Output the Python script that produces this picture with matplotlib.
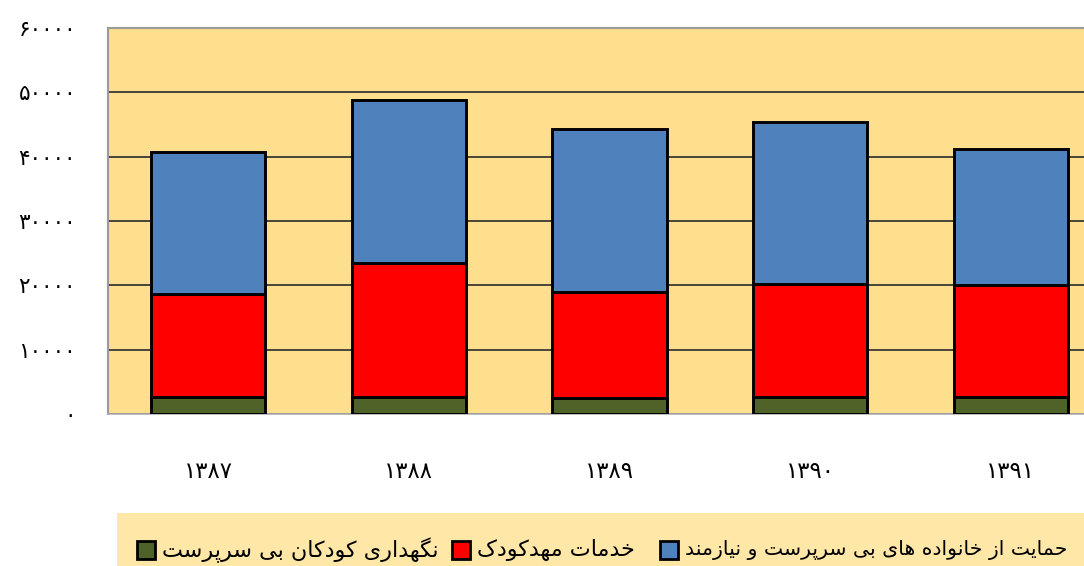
import matplotlib
matplotlib.use("Agg")
import matplotlib.pyplot as plt
from matplotlib.patches import Rectangle
from matplotlib.ticker import FuncFormatter, MultipleLocator

plt.rcParams['font.family'] = ['DejaVu Sans']

# ---------------- data ----------------
years = ['۱۳۸۷', '۱۳۸۸', '۱۳۸۹', '۱۳۹۰', '۱۳۹۱']
orphan_care = [2700, 2700, 2500, 2700, 2700]          # نگهداری کودکان بی سرپرست
daycare = [15900, 20750, 16400, 17500, 17300]         # خدمات مهدکودک
family_support = [22200, 25300, 25350, 25150, 21150]  # حمایت از خانواده های بی سرپرست و نیازمند

label_green = 'نگهداری کودکان بی سرپرست'
label_red = 'خدمات مهدکودک'
label_blue = 'حمایت از خانواده های بی سرپرست و نیازمند'

# ---------------- simple Arabic-script shaping ----------------
FORMS = {
    '\u0627': ('\uFE8D', '\uFE8E', None, None),
    '\u0628': ('\uFE8F', '\uFE90', '\uFE91', '\uFE92'),
    '\u062A': ('\uFE95', '\uFE96', '\uFE97', '\uFE98'),
    '\u062D': ('\uFEA1', '\uFEA2', '\uFEA3', '\uFEA4'),
    '\u062E': ('\uFEA5', '\uFEA6', '\uFEA7', '\uFEA8'),
    '\u062F': ('\uFEA9', '\uFEAA', None, None),
    '\u0631': ('\uFEAD', '\uFEAE', None, None),
    '\u0632': ('\uFEAF', '\uFEB0', None, None),
    '\u0633': ('\uFEB1', '\uFEB2', '\uFEB3', '\uFEB4'),
    '\u0645': ('\uFEE1', '\uFEE2', '\uFEE3', '\uFEE4'),
    '\u0646': ('\uFEE5', '\uFEE6', '\uFEE7', '\uFEE8'),
    '\u0647': ('\uFEE9', '\uFEEA', '\uFEEB', '\uFEEC'),
    '\u0648': ('\uFEED', '\uFEEE', None, None),
    '\u06CC': ('\uFBFC', '\uFBFD', '\uFBFE', '\uFBFF'),
    '\u064A': ('\uFBFC', '\uFBFD', '\uFBFE', '\uFBFF'),
    '\u067E': ('\uFB56', '\uFB57', '\uFB58', '\uFB59'),
    '\u06A9': ('\uFB8E', '\uFB8F', '\uFB90', '\uFB91'),
    '\u0643': ('\uFB8E', '\uFB8F', '\uFB90', '\uFB91'),
    '\u06AF': ('\uFB92', '\uFB93', '\uFB94', '\uFB95'),
}


def shape(s):
    out = []
    n = len(s)
    for i, c in enumerate(s):
        if c not in FORMS:
            out.append(c)
            continue
        prev = s[i - 1] if i > 0 else None
        nxt = s[i + 1] if i < n - 1 else None
        jp = prev in FORMS and FORMS[prev][2] is not None
        jn = FORMS[c][2] is not None and nxt in FORMS
        f = FORMS[c]
        if jp and jn:
            out.append(f[3])
        elif jp:
            out.append(f[1])
        elif jn:
            out.append(f[2])
        else:
            out.append(f[0])
    return ''.join(reversed(out))


PERSIAN_DIGITS = str.maketrans('0123456789', '۰۱۲۳۴۵۶۷۸۹')

# ---------------- figure ----------------
W, H = 1084, 566
fig = plt.figure(figsize=(W / 100, H / 100), dpi=100)
fig.patch.set_facecolor('white')

ax_left, ax_right, ax_top, ax_bot = 108, 1111, 28, 414
ax = fig.add_axes([ax_left / W, 1 - ax_bot / H, (ax_right - ax_left) / W, (ax_bot - ax_top) / H])
ax.set_facecolor('#FDDF8D')

x = list(range(len(years)))
bw = 0.57
c_green, c_red, c_blue = '#4F6228', '#FF0000', '#4F81BD'
bottom2 = [a for a in orphan_care]
bottom3 = [a + b for a, b in zip(orphan_care, daycare)]
ax.bar(x, orphan_care, bw, color=c_green, edgecolor='black', linewidth=2.1, zorder=3)
ax.bar(x, daycare, bw, bottom=bottom2, color=c_red, edgecolor='black', linewidth=2.1, zorder=3)
ax.bar(x, family_support, bw, bottom=bottom3, color=c_blue, edgecolor='black', linewidth=2.1, zorder=3)

ax.set_xlim(-0.5, len(years) - 0.5)
ax.set_ylim(0, 60000)
ax.yaxis.set_major_locator(MultipleLocator(10000))
for v in range(0, 60000, 10000):
    ax.axhline(v, color='#4a4438', linewidth=1.4, zorder=1)

ax.set_xticks(x)
ax.set_xticklabels(years, fontsize=16.5)
ax.yaxis.set_major_formatter(FuncFormatter(lambda v, p: str(int(v)).translate(PERSIAN_DIGITS)))
ax.tick_params(axis='x', length=0, pad=33)
ax.tick_params(axis='y', length=0, pad=23, labelsize=15.5)

for side in ['left', 'top']:
    ax.spines[side].set_color('#9a9a9a')
    ax.spines[side].set_linewidth(1.5)
ax.spines['bottom'].set_color('#b0b0b0')
ax.spines['bottom'].set_linewidth(1.2)
ax.spines['right'].set_visible(False)

# ---------------- legend (drawn at figure level) ----------------
fig.patches.append(Rectangle((117 / W, 0), (W - 117) / W + 0.05, (H - 513) / H,
                             transform=fig.transFigure, facecolor='#FFE7A8',
                             edgecolor='none', zorder=0))
items = [(c_green, label_green, 137, 16), (c_red, label_red, 452, 16), (c_blue, label_blue, 660, 14.7)]
box = 18
ybox = 541
for col, lab, xb, fs in items:
    fig.patches.append(Rectangle((xb / W, 1 - (ybox + box) / H), box / W, box / H,
                                 transform=fig.transFigure, facecolor=col,
                                 edgecolor='black', linewidth=2.0, zorder=2))
    fig.text((xb + box + 7) / W, 1 - (ybox + box / 2) / H, shape(lab),
             ha='left', va='center', fontsize=fs, color='black')

fig.savefig('out.png', dpi=100)
